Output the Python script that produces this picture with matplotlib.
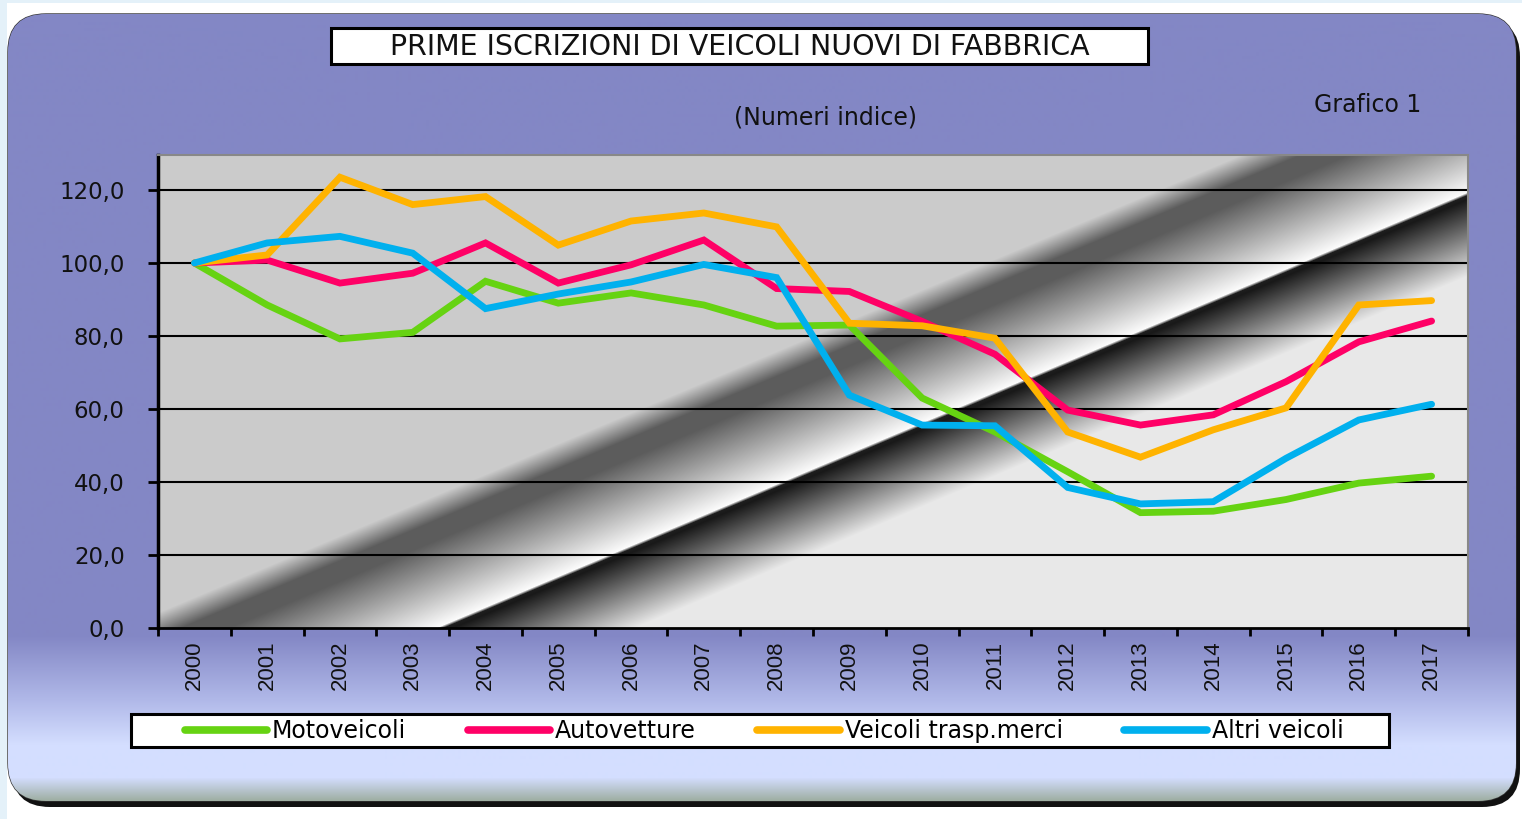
import numpy as np
import matplotlib
matplotlib.use("Agg")
import matplotlib.pyplot as plt
from matplotlib.patches import FancyBboxPatch, Rectangle
from matplotlib.lines import Line2D

years = [str(y) for y in range(2000, 2018)]
moto = [100, 88.5, 79.2, 81.0, 95.0, 89.0, 91.8, 88.5, 82.7, 83.0, 63.0, 53.7, 42.8, 31.6, 32.0, 35.2, 39.7, 41.6]
auto = [100, 100.8, 94.5, 97.2, 105.5, 94.5, 99.5, 106.3, 93.0, 92.2, 84.0, 75.0, 59.7, 55.6, 58.4, 67.5, 78.4, 84.1]
merci = [100, 102.2, 123.5, 116.0, 118.2, 104.9, 111.5, 113.7, 109.9, 83.5, 82.8, 79.4, 53.7, 46.8, 54.3, 60.3, 88.5, 89.7]
altri = [100, 105.5, 107.3, 102.7, 87.5, 91.5, 94.8, 99.6, 96.0, 63.8, 55.6, 55.4, 38.5, 34.0, 34.6, 46.5, 57.0, 61.3]

series_names = ["Motoveicoli", "Autovetture", "Veicoli trasp.merci", "Altri veicoli"]
series_colors = ["#66D312", "#FF0066", "#FFB300", "#00B0EE"]
yticks = [0, 20, 40, 60, 80, 100, 120]

W, H = 1522, 819
fig = plt.figure(figsize=(W / 100, H / 100), dpi=100)
fig.patch.set_facecolor("white")

# background frame, drawn in pixel coordinates
bg = fig.add_axes([0, 0, 1, 1])
bg.set_xlim(0, W)
bg.set_ylim(H, 0)
bg.axis("off")
bg.set_zorder(0)

bg.add_patch(Rectangle((0, 0), 7, H, fc="#E4F1F9", ec="none"))
bg.add_patch(Rectangle((0, 0), W, 3, fc="#E4F1F9", ec="none"))

shadow = FancyBboxPatch((12, 19), 1508, 788, boxstyle="round,pad=0,rounding_size=38",
                        fc="#111111", ec="none")
bg.add_patch(shadow)
frame = FancyBboxPatch((8, 14), 1508, 787, boxstyle="round,pad=0,rounding_size=38",
                       fc="none", ec="#333333", lw=1)
bg.add_patch(frame)

ys = np.arange(14, 802)
stop_y = [14, 636, 700, 745, 778, 801]
stop_c = np.array([[131, 135, 197], [131, 135, 197], [176, 184, 232],
                   [212, 222, 255], [212, 222, 255], [158, 174, 162]]) / 255
grad = np.stack([np.interp(ys, stop_y, stop_c[:, i]) for i in range(3)], axis=-1)
grad = np.repeat(grad[:, None, :], 2, axis=1)
im = bg.imshow(grad, extent=[8, 1516, 801, 14], aspect="auto", zorder=1)
im.set_clip_path(frame)

# title box and texts
bg.add_patch(Rectangle((331, 28), 817, 36, fc="white", ec="black", lw=2.2, zorder=3))
bg.text(740, 47, "PRIME ISCRIZIONI DI VEICOLI NUOVI DI FABBRICA", ha="center", va="center",
        fontsize=20.5, family="DejaVu Sans", color="#111111", zorder=4)
bg.text(826, 117, "(Numeri indice)", ha="center", va="center", fontsize=17,
        family="DejaVu Sans", color="#111111", zorder=4)
bg.text(1368, 105, "Grafico 1", ha="center", va="center", fontsize=17,
        family="DejaVu Sans", color="#111111", zorder=4)

# legend box
bg.add_patch(Rectangle((131, 714), 1258, 33, fc="white", ec="black", lw=2.2, zorder=3))

# main plot
ax = fig.add_axes([158 / W, 1 - 628 / H, 1310 / W, 473 / H])
ax.set_zorder(2)
ymax = 473 / 3.65
ax.set_xlim(-0.5, 17.5)
ax.set_ylim(0, ymax)

# plot-area background with diagonal shading
u = np.linspace(0, 1, 1310)
v = np.linspace(0, 1, 473)
uu, vv = np.meshgrid(u, v)
d = (155 + vv * 473) + 0.423 * (158 + uu * 1310)
shade = np.interp(d, [0, 680, 705, 725, 813, 816, 820, 897, 3000],
                  [203, 203, 92, 92, 252, 30, 25, 232, 232]) / 255
ax.imshow(np.dstack([shade] * 3), extent=[0, 1, 0, 1], transform=ax.transAxes,
          aspect="auto", zorder=0)

for yv in yticks[1:]:
    ax.axhline(yv, color="black", lw=1.5, zorder=1)

x = np.arange(len(years))
for vals, name, col in zip([moto, auto, merci, altri], series_names, series_colors):
    ax.plot(x, vals, color=col, lw=4.9, solid_capstyle="round",
            solid_joinstyle="miter", label=name, zorder=3)

ax.spines["left"].set_linewidth(2.5)
ax.spines["bottom"].set_linewidth(2)
ax.spines["top"].set_color("#888888")
ax.spines["right"].set_color("#888888")
ax.spines["top"].set_linewidth(1.5)
ax.spines["right"].set_linewidth(1.5)

ax.set_yticks(yticks)
ax.set_yticklabels([f"{t:.1f}".replace(".", ",") for t in yticks],
                   fontsize=16.5, family="DejaVu Sans", color="#111111")
ax.tick_params(axis="y", length=7, width=2, pad=17)

ax.set_xticks(x)
ax.set_xticklabels(years, rotation=90, fontsize=16,
                   family=["Liberation Sans", "DejaVu Sans"], color="#111111")
ax.set_xticks(np.arange(-0.5, 18, 1), minor=True)
ax.tick_params(axis="x", which="major", length=0, pad=9)
ax.tick_params(axis="x", which="minor", length=6, width=2)

handles = [Line2D([], [], color=c, lw=5.5, solid_capstyle="round") for c in series_colors]
fig.legend(handles, series_names, loc="center", ncol=4,
           bbox_to_anchor=(764 / W, 1 - 731 / H),
           prop={"family": "DejaVu Sans", "size": 17}, handlelength=3.5,
           handletextpad=0.2, columnspacing=2.6, frameon=False, borderaxespad=0)

fig.savefig("out.png", dpi=100, facecolor=fig.get_facecolor())
